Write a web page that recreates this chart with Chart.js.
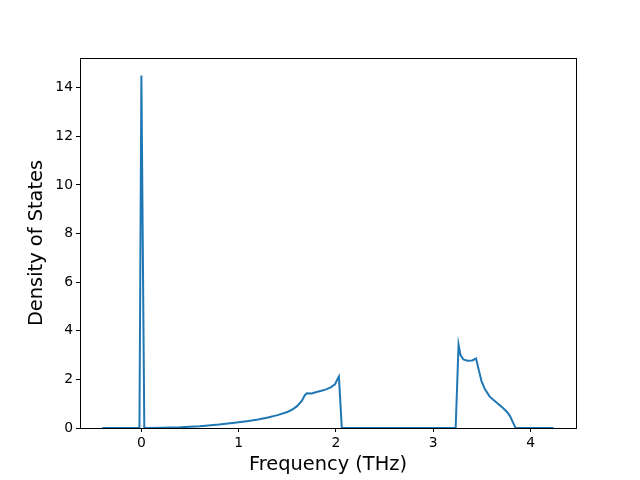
<!DOCTYPE html>
<html>
<head>
<meta charset="utf-8">
<script src="https://cdn.jsdelivr.net/npm/chart.js@4/dist/chart.umd.min.js"></script>
<style>
html,body{margin:0;padding:0;background:#fff;}
#wrap{width:640px;height:480px;}
</style>
</head>
<body>
<div id="wrap"><canvas id="c" width="640" height="480"></canvas></div>
<script>
const freq = [-0.40, -0.02, 0.00, 0.03, 0.05, 0.20, 0.40, 0.60, 0.80, 1.00, 1.10, 1.20, 1.30, 1.40, 1.50, 1.55, 1.60, 1.65, 1.68, 1.70, 1.75, 1.80, 1.85, 1.90, 1.95, 1.99, 2.02, 2.03, 2.06,
  3.23, 3.26, 3.28, 3.31, 3.35, 3.40, 3.44, 3.47, 3.495, 3.53, 3.58, 3.65, 3.72, 3.76, 3.79, 3.82, 3.846, 4.235];
const dos = [0, 0, 14.5, 0, 0.0, 0.01, 0.03, 0.07, 0.14, 0.24, 0.29, 0.35, 0.43, 0.53, 0.66, 0.76, 0.90, 1.12, 1.35, 1.43, 1.42, 1.48, 1.53, 1.59, 1.68, 1.80, 2.05, 2.12, 0,
  0, 3.43, 3.00, 2.82, 2.77, 2.78, 2.86, 2.35, 1.94, 1.60, 1.29, 1.05, 0.81, 0.65, 0.48, 0.22, 0, 0];
const xTicks = [0, 1, 2, 3, 4];
const yTicks = [0, 2, 4, 6, 8, 10, 12, 14];
const xLabel = 'Frequency (THz)';
const yLabel = 'Density of States';

const points = freq.map((f, i) => ({x: f, y: dos[i]}));
const FONT = 'DejaVu Sans';

const frame = {
  id: 'frame',
  afterDraw(chart) {
    const a = chart.chartArea, ctx = chart.ctx;
    ctx.save();
    ctx.strokeStyle = '#000';
    ctx.lineWidth = 1;
    ctx.strokeRect(Math.round(a.left) + 0.5, Math.round(a.top) + 0.5, Math.round(a.right - a.left), Math.round(a.bottom - a.top));
    ctx.restore();
  }
};

new Chart(document.getElementById('c'), {
  type: 'line',
  data: {
    datasets: [{
      data: points,
      borderColor: '#1f77b4',
      borderWidth: 2,
      pointRadius: 0,
      tension: 0,
      fill: false
    }]
  },
  options: {
    responsive: false,
    animation: false,
    devicePixelRatio: 1,
    layout: {padding: {top: 58, right: 64, left: 0, bottom: 0}},
    plugins: {legend: {display: false}, tooltip: {enabled: false}},
    scales: {
      x: {
        type: 'linear',
        min: -0.631,
        max: 4.467,
        afterFit: s => { s.height = 52; },
        afterBuildTicks: s => { s.ticks = xTicks.map(v => ({value: v})); },
        ticks: {color: '#000', font: {family: FONT, size: 13.9}, padding: 3, maxRotation: 0, callback: v => String(v)},
        grid: {drawOnChartArea: false, drawTicks: true, tickLength: 4, tickColor: '#000', tickWidth: 1},
        border: {display: true, color: '#000', width: 1},
        title: {display: true, text: xLabel, color: '#000', font: {family: FONT, size: 19.4}, padding: {top: 0, bottom: 3.5}}
      },
      y: {
        type: 'linear',
        min: 0,
        max: 15.225,
        afterFit: s => { s.width = 80; },
        afterBuildTicks: s => { s.ticks = yTicks.map(v => ({value: v})); },
        ticks: {color: '#000', font: {family: FONT, size: 13.9}, padding: 3, callback: v => String(v)},
        grid: {drawOnChartArea: false, drawTicks: true, tickLength: 4, tickColor: '#000', tickWidth: 1},
        border: {display: true, color: '#000', width: 1},
        title: {display: true, text: yLabel, color: '#000', font: {family: FONT, size: 19.4}, padding: {top: 25, bottom: 0}}
      }
    }
  },
  plugins: [frame]
});
</script>
</body>
</html>
